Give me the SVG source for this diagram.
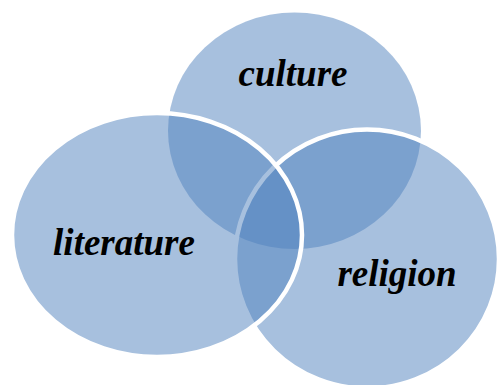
<svg xmlns="http://www.w3.org/2000/svg" width="497" height="385" viewBox="0 0 497 385">
  <style>
    .c { fill: #4F81BD; fill-opacity: 0.5; }
    .s { stroke: #FFFFFF; stroke-width: 4.5; }
    .t { font-family: "Liberation Serif", "Times New Roman", "DejaVu Serif", serif; font-weight: bold; font-style: italic; font-size: 37px; fill: #000000; text-anchor: middle; }
  </style>
  <rect width="497" height="385" fill="#FFFFFF"/>
  <g id="culture">
    <ellipse class="c" cx="294.5" cy="130.75" rx="126.5" ry="118.25"/>
  </g>
  <g id="religion">
    <ellipse class="c s" cx="367" cy="259" rx="132" ry="129.5"/>
  </g>
  <g id="literature">
    <ellipse class="c s" cx="157" cy="235" rx="145" ry="122"/>
  </g>
  <g id="labels">
    <text class="t" x="293" y="86">culture</text>
    <text class="t" x="124" y="255">literature</text>
    <text class="t" x="397" y="286">religion</text>
  </g>
</svg>
